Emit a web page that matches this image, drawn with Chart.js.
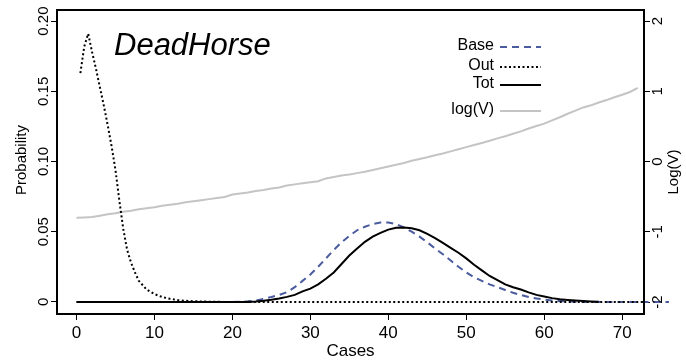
<!DOCTYPE html>
<html>
<head>
<meta charset="utf-8">
<script src="https://cdn.jsdelivr.net/npm/chart.js@4/dist/chart.umd.min.js"></script>
<style>
  html, body { margin: 0; padding: 0; background: #fff; }
  #wrap { width: 686px; height: 360px; }
</style>
</head>
<body>
<div id="wrap"><canvas id="chart"></canvas></div>
<script>
// x values (cases)
const cases = [0,1,2,3,4,5,6,7,8,9,10,11,12,13,14,15,16,17,18,19,20,21,22,23,24,25,26,27,28,29,
  30,31,32,33,34,35,36,37,38,39,40,41,42,43,44,45,46,47,48,49,50,51,52,53,54,55,56,57,58,59,
  60,61,62,63,64,65,66,67,68,69,70,71,72];

const baseProb = [0,0,0,0,0,0,0,0,0,0,0,0,0,0,0,0,0,0,0,0,0,0.0002,0.0005,0.001,0.0022,0.0035,0.005,0.007,0.0105,0.015,
  0.0195,0.025,0.031,0.037,0.0425,0.047,0.051,0.0535,0.0555,0.0565,0.0565,0.0555,0.053,0.05,0.0465,0.0425,0.038,0.034,0.0295,0.025,
  0.021,0.0175,0.015,0.0125,0.0105,0.0085,0.0065,0.005,0.0035,0.0025,0.0016,0.001,0.0006,0.0003,0.0001,0,0,0,0,0,0,0,0];
// base stays at zero past the right edge
const baseTailCases = [76, 80];
const baseTailProb = [0, 0];

const totCases = cases.slice(0, 68);
const totProb = [0,0,0,0,0,0,0,0,0,0,0,0,0,0,0,0,0,0,0,0,0,0,0,0.0003,0.0008,0.0015,0.0024,0.0036,0.005,0.0075,
  0.0095,0.0125,0.0165,0.021,0.027,0.033,0.038,0.0428,0.0465,0.0492,0.0515,0.0528,0.053,0.0525,0.051,0.0485,0.0455,0.042,0.0385,0.035,
  0.031,0.0265,0.0225,0.0185,0.0155,0.0125,0.0105,0.0088,0.0068,0.005,0.0038,0.0027,0.0019,0.0014,0.001,0.0006,0.0003,0.0001];

const outCases = [0.5,1,1.5,2,2.5,3,3.5,4,4.5,5,5.5,6,6.5,7,7.5,8,9,10,11,12,13,14,15,16,17,18,19,20,80];
const outProb = [0.163,0.182,0.191,0.178,0.166,0.153,0.14,0.126,0.111,0.094,0.072,0.052,0.037,0.028,0.021,0.015,
  0.0088,0.0056,0.0035,0.0022,0.0013,0.0008,0.0005,0.0003,0.0002,0.0001,0,0,0];

const logV = [-0.80,-0.795,-0.79,-0.77,-0.75,-0.735,-0.715,-0.70,-0.68,-0.665,-0.65,-0.63,-0.615,-0.60,-0.58,-0.565,-0.55,-0.535,-0.52,-0.505,
  -0.47,-0.455,-0.44,-0.42,-0.405,-0.385,-0.37,-0.34,-0.325,-0.31,-0.295,-0.28,-0.24,-0.22,-0.20,-0.185,-0.165,-0.145,-0.12,-0.095,
  -0.07,-0.045,-0.02,0.01,0.035,0.06,0.09,0.115,0.145,0.175,0.205,0.235,0.265,0.295,0.33,0.36,0.395,0.43,0.47,0.505,
  0.54,0.585,0.63,0.68,0.725,0.77,0.80,0.84,0.875,0.915,0.95,0.99,1.05];

const xTicks = [0, 10, 20, 30, 40, 50, 60, 70];
const probTicks = [0, 0.05, 0.10, 0.15, 0.20];
const probTickLabels = ['0', '0.05', '0.10', '0.15', '0.20'];
const logTicks = [-2, -1, 0, 1, 2];
const legendLabels = ['Base', 'Out', 'Tot', 'log(V)'];
const title = 'DeadHorse';

const FONT = '"Liberation Sans", Arial, sans-serif';

function pts(xs, ys) {
  return xs.map((x, i) => ({ x: x, y: ys[i] }));
}

const baseline = {
  id: 'rstyle',
  afterDraw(chart) {
    const ctx = chart.ctx;
    const a = chart.chartArea;
    const sx = chart.scales.x, sy = chart.scales.y, sy2 = chart.scales.y2;
    ctx.save();

    // box
    ctx.strokeStyle = '#000';
    ctx.lineWidth = 2;
    ctx.strokeRect(a.left, a.top, a.right - a.left, a.bottom - a.top);

    ctx.fillStyle = '#000';
    ctx.textBaseline = 'middle';
    ctx.textAlign = 'center';

    // x tick labels + title
    ctx.font = '17px ' + FONT;
    xTicks.forEach(v => ctx.fillText(String(v), sx.getPixelForValue(v), 333));
    ctx.fillText('Cases', (a.left + a.right) / 2, 351);

    // left axis labels (rotated)
    ctx.font = '15px ' + FONT;
    probTicks.forEach((v, i) => {
      ctx.save();
      ctx.translate(44, sy.getPixelForValue(v));
      ctx.rotate(-Math.PI / 2);
      ctx.fillText(probTickLabels[i], 0, 0);
      ctx.restore();
    });
    ctx.save();
    ctx.translate(22, 160);
    ctx.rotate(-Math.PI / 2);
    ctx.fillText('Probability', 0, 0);
    ctx.restore();

    // right axis labels
    logTicks.forEach(v => {
      ctx.save();
      ctx.translate(658, sy2.getPixelForValue(v));
      ctx.rotate(-Math.PI / 2);
      ctx.fillText(String(v), 0, 0);
      ctx.restore();
    });
    ctx.save();
    ctx.translate(674, 172);
    ctx.rotate(-Math.PI / 2);
    ctx.fillText('Log(V)', 0, 0);
    ctx.restore();

    // title
    ctx.textAlign = 'left';
    ctx.textBaseline = 'alphabetic';
    ctx.font = 'italic 31px ' + FONT;
    ctx.fillText(title, 114, 55);

    // legend: text on the left, line sample on the right
    const rows = [46, 66, 84, 110];
    const order = [0, 1, 2, 3];
    ctx.font = '16px ' + FONT;
    ctx.textAlign = 'right';
    ctx.textBaseline = 'middle';
    order.forEach((di, i) => {
      const ds = chart.data.datasets[di];
      ctx.fillStyle = '#000';
      ctx.fillText(legendLabels[i], 494, rows[i]);
      ctx.beginPath();
      ctx.strokeStyle = ds.borderColor;
      ctx.lineWidth = ds.borderWidth;
      ctx.setLineDash(ds.borderDash || []);
      ctx.moveTo(500, rows[i] + 1);
      ctx.lineTo(541, rows[i] + 1);
      ctx.stroke();
    });
    ctx.setLineDash([]);
    ctx.restore();
  }
};

const tickGrid = { drawOnChartArea: false, drawTicks: true, tickLength: 6, color: '#000', lineWidth: 1 };

new Chart(document.getElementById('chart'), {
  type: 'line',
  data: {
    datasets: [
      {
        label: 'Base',
        data: pts(cases, baseProb).concat(pts(baseTailCases, baseTailProb)),
        borderColor: '#4a5b9e',
        borderWidth: 2,
        borderDash: [7, 5],
        yAxisID: 'y',
        clip: false,
        order: 2
      },
      {
        label: 'Out',
        data: pts(outCases, outProb),
        borderColor: '#000',
        borderWidth: 2,
        borderDash: [2, 2.5],
        yAxisID: 'y',
        order: 1
      },
      {
        label: 'Tot',
        data: pts(totCases, totProb),
        borderColor: '#000',
        borderWidth: 2,
        yAxisID: 'y',
        order: 0
      },
      {
        label: 'log(V)',
        data: pts(cases, logV),
        borderColor: '#c4c4c4',
        borderWidth: 2,
        yAxisID: 'y2',
        order: 3
      }
    ]
  },
  options: {
    responsive: true,
    maintainAspectRatio: false,
    animation: false,
    parsing: false,
    elements: { point: { radius: 0 }, line: { tension: 0 } },
    layout: { padding: { top: 10, left: 0, right: 0, bottom: 0 } },
    plugins: { legend: { display: false }, tooltip: { enabled: false } },
    scales: {
      x: {
        type: 'linear', position: 'bottom', min: -2.5, max: 72.8,
        afterFit: s => { s.height = 46; },
        afterBuildTicks: s => { s.ticks = xTicks.map(v => ({ value: v })); },
        ticks: { display: false },
        grid: tickGrid,
        border: { display: false }
      },
      y: {
        type: 'linear', position: 'left', min: -0.0086, max: 0.2079,
        afterFit: s => { s.width = 57; },
        afterBuildTicks: s => { s.ticks = probTicks.map(v => ({ value: v })); },
        ticks: { display: false },
        grid: tickGrid,
        border: { display: false }
      },
      y2: {
        type: 'linear', position: 'right', min: -2.17, max: 2.157,
        afterFit: s => { s.width = 42; },
        afterBuildTicks: s => { s.ticks = logTicks.map(v => ({ value: v })); },
        ticks: { display: false },
        grid: tickGrid,
        border: { display: false }
      }
    }
  },
  plugins: [baseline]
});
</script>
</body>
</html>
